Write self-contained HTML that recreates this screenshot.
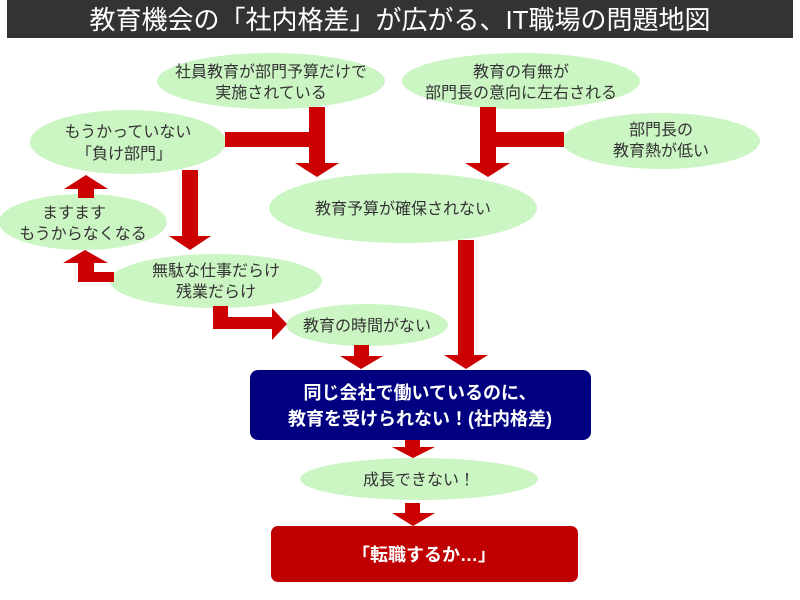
<!DOCTYPE html>
<html><head><meta charset="utf-8"><style>
html,body{margin:0;padding:0;background:#fff;width:800px;height:600px;overflow:hidden}
svg{display:block}
text{font-family:"Liberation Sans","Noto Sans CJK JP",sans-serif}
</style></head><body>
<svg width="800" height="600" viewBox="0 0 800 600">
<rect x="7" y="0" width="786" height="38" fill="#333"/>
<text x="400" y="29" font-size="26" fill="#fff" text-anchor="middle">教育機会の「社内格差」が広がる、IT職場の問題地図</text>
<g fill="#ccf5c4">
<ellipse cx="271" cy="81" rx="114" ry="28"/>
<ellipse cx="521" cy="81" rx="119" ry="28"/>
<ellipse cx="128" cy="142" rx="98" ry="32"/>
<ellipse cx="661" cy="141" rx="99" ry="28"/>
<ellipse cx="403" cy="208" rx="134" ry="35"/>
<ellipse cx="83" cy="222" rx="84" ry="28"/>
<ellipse cx="216" cy="281" rx="106" ry="27"/>
<ellipse cx="367" cy="325" rx="81" ry="21"/>
<ellipse cx="419" cy="479" rx="119" ry="21"/>
</g>
<g fill="#cc0000">
<!-- C bar + A down -->
<rect x="225" y="132" width="100" height="15"/>
<rect x="309" y="107" width="16" height="56"/>
<polygon points="295,163 339,163 317,177"/>
<!-- B down + D bar -->
<rect x="480" y="107" width="16" height="56"/>
<rect x="480" y="132" width="84" height="15"/>
<polygon points="465,163 510,163 488,177"/>
<!-- C down -->
<rect x="182" y="170" width="16" height="66"/>
<polygon points="169,236 211,236 190,250"/>
<!-- F up to C -->
<rect x="78" y="188" width="16" height="10"/>
<polygon points="64,189 108,189 86,175"/>
<!-- E down -->
<rect x="458" y="240" width="16" height="115"/>
<polygon points="444,355 488,355 466,369"/>
<!-- G to F elbow -->
<rect x="78" y="262" width="16" height="20"/>
<rect x="78" y="272" width="36" height="10"/>
<polygon points="63,263 108,263 85,250"/>
<!-- G to H elbow -->
<rect x="213" y="306" width="15" height="23"/>
<rect x="213" y="317" width="60" height="12"/>
<polygon points="272,308 272,340 287,324"/>
<!-- H down -->
<rect x="354" y="345" width="15" height="12"/>
<polygon points="340,356 383,356 361,369"/>
<!-- blue down -->
<rect x="405" y="438" width="15" height="10"/>
<polygon points="392,447 435,447 413,458"/>
<!-- I down -->
<rect x="405" y="503" width="15" height="11"/>
<polygon points="392,513 435,513 413,526"/>
</g>
<rect x="250" y="370" width="341" height="70" rx="8" fill="#000080"/>
<rect x="271" y="526" width="307" height="56" rx="7" fill="#c00000"/>
<g font-size="16" fill="#333" text-anchor="middle">
<text x="271" y="77">社員教育が部門予算だけで</text>
<text x="271" y="98">実施されている</text>
<text x="521" y="77">教育の有無が</text>
<text x="521" y="98">部門長の意向に左右される</text>
<text x="128" y="137">もうかっていない</text>
<text x="124" y="159">「負け部門」</text>
<text x="661" y="135">部門長の</text>
<text x="661" y="156">教育熱が低い</text>
<text x="403" y="214">教育予算が確保されない</text>
<text x="74" y="218">ますます</text>
<text x="83" y="239">もうからなくなる</text>
<text x="216" y="276">無駄な仕事だらけ</text>
<text x="216" y="297">残業だらけ</text>
<text x="367" y="331">教育の時間がない</text>
<text x="419" y="485">成長できない！</text>
</g>
<g font-size="18" font-weight="bold" fill="#fff" text-anchor="middle">
<text x="420" y="399">同じ会社で働いているのに、</text>
<text x="420" y="425">教育を受けられない！(社内格差)</text>
<text x="424" y="561">「転職するか…」</text>
</g>
</svg>
</body></html>
